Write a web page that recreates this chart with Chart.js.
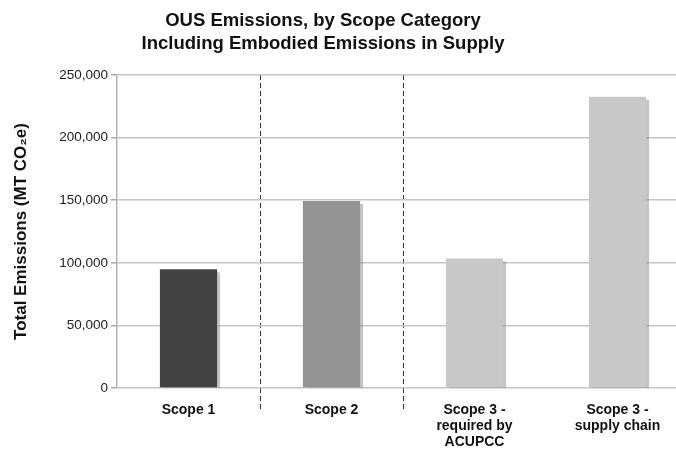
<!DOCTYPE html>
<html>
<head>
<meta charset="utf-8">
<script src="https://cdn.jsdelivr.net/npm/chart.js@4/dist/chart.umd.min.js"></script>
<style>
  html, body { margin: 0; padding: 0; background: #fff; overflow: hidden; }
  #wrap { position: relative; width: 690px; height: 449px; }
</style>
</head>
<body>
<div id="wrap"><canvas id="emissionsChart"></canvas></div>
<script>
// --- Data ---
const titleLines = ['OUS Emissions, by Scope Category', 'Including Embodied Emissions in Supply'];
const categories = [
    ['Scope 1'],
    ['Scope 2'],
    ['Scope 3 -', 'required by', 'ACUPCC'],
    ['Scope 3 -', 'supply chain']
];
const emissions = [94800, 149300, 103500, 232600];
const barColors = ['#414342', '#939393', '#c8c8c8', '#c8c8c8'];
const yTicks = [0, 50000, 100000, 150000, 200000, 250000];

const FONT = '"Liberation Sans", Arial, sans-serif';

// two-line title, centred where the original sat (not on the canvas middle)
const titlePlugin = {
    id: 'offsetTitle',
    afterDraw(chart) {
        const ctx = chart.ctx;
        ctx.save();
        ctx.fillStyle = '#111';
        ctx.font = 'bold 18.5px ' + FONT;
        ctx.textAlign = 'center';
        ctx.textBaseline = 'middle';
        titleLines.forEach((line, i) => ctx.fillText(line, 323, 21 + i * 22.5));
        ctx.restore();
    }
};

// little drop shadow on the bars
const shadowPlugin = {
    id: 'barShadow',
    beforeDatasetsDraw(chart) {
        const ctx = chart.ctx;
        ctx.save();
        ctx.shadowColor = 'rgba(140,140,140,0.5)';
        ctx.shadowOffsetX = 3;
        ctx.shadowOffsetY = 3;
        ctx.shadowBlur = 0;
    },
    afterDatasetsDraw(chart) {
        chart.ctx.restore();
    }
};

const ctx = document.getElementById('emissionsChart').getContext('2d');
new Chart(ctx, {
    type: 'bar',
    data: {
        labels: categories,
        datasets: [{
            data: emissions,
            backgroundColor: barColors,
            borderWidth: 0,
            barPercentage: 0.4,
            categoryPercentage: 1.0
        }]
    },
    options: {
        responsive: true,
        maintainAspectRatio: false,
        animation: false,
        devicePixelRatio: 1,
        layout: { padding: { top: 75, right: 1, left: 0, bottom: 0 } },
        plugins: {
            legend: { display: false },
            title: { display: false },
            tooltip: { enabled: false }
        },
        scales: {
            x: {
                grid: {
                    offset: true,
                    color: (c) => (c.index === 1 || c.index === 2) ? '#333' : 'rgba(0,0,0,0)',
                    tickColor: (c) => (c.index === 1 || c.index === 2) ? '#333' : 'rgba(0,0,0,0)',
                    lineWidth: 1,
                    tickLength: 22,
                    tickBorderDash: [5, 3]
                },
                border: { display: false, dash: [5, 3] },
                ticks: {
                    color: '#111',
                    font: { family: FONT, size: 14, weight: 'bold', lineHeight: 1.15 },
                    padding: -8,
                    maxRotation: 0
                },
                afterFit: (scale) => { scale.height = 61; }
            },
            y: {
                min: 0,
                max: 250000,
                afterBuildTicks: (scale) => { scale.ticks = yTicks.map(v => ({ value: v })); },
                grid: {
                    color: '#c6c6c6',
                    lineWidth: 1.5,
                    tickColor: '#a8a8a8',
                    tickLength: 6
                },
                border: { color: '#b4b4b4', width: 1.5 },
                ticks: {
                    color: '#222',
                    font: { family: FONT, size: 13.5 },
                    padding: 3,
                    callback: (v) => v.toLocaleString('en-US')
                },
                title: {
                    display: true,
                    text: 'Total Emissions (MT CO\u2082e)',
                    color: '#111',
                    font: { family: FONT, size: 17, weight: 'bold' },
                    padding: { top: 11, bottom: 0 }
                },
                afterFit: (scale) => { scale.width = 117; }
            }
        }
    },
    plugins: [shadowPlugin, titlePlugin]
});
</script>
</body>
</html>
